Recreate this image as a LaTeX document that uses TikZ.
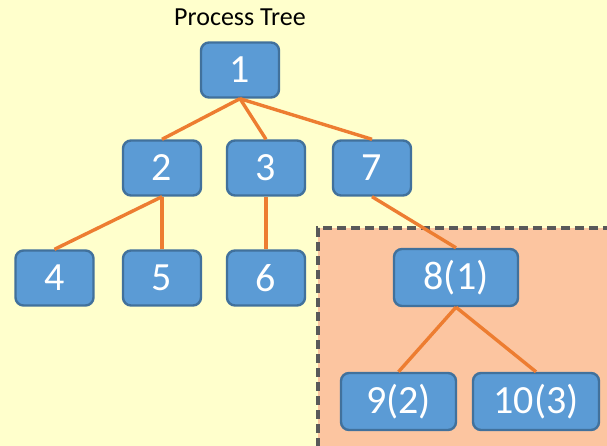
\documentclass[tikz,border=0pt]{standalone}
\usepackage{fontspec}
\setmainfont{Carlito}
\usepackage{tikz}
\definecolor{paper}{HTML}{FFFFCC}
\definecolor{boxfill}{HTML}{5B9BD5}
\definecolor{boxline}{HTML}{41719C}
\definecolor{link}{HTML}{ED7D31}
\definecolor{zone}{HTML}{FCC5A0}
\definecolor{zoneline}{HTML}{595959}
\tikzstyle{procBox}=[shape = rectangle, rounded corners = 8pt, draw = boxline, line width = 2.4pt, fill = boxfill, text = white, minimum width = 78pt, minimum height = 55pt, inner sep = 0pt, font = \fontsize{40}{40}\selectfont]
\tikzstyle{treeEdge}=[draw = link, line width = 3.4pt]

\begin{document}
\begin{tikzpicture}[x = 1pt, y = -1pt]
\useasboundingbox (0,0) rectangle (607,446);
\fill[paper] (0,0) rectangle (607,446);
\tikzstyle{childZone}=[draw = zoneline, line width = 3.2pt, dash pattern = on 9pt off 5pt]
% forked-off subtree area, open to the right and bottom
\fill[zone] (318,228) rectangle (612,452);
\draw[childZone] (612,228) -- (318,228) -- (318,452);
\node[font = \fontsize{26}{26}\selectfont] (title) at (240,17) {Process Tree};
\node[style = procBox] (v1) at (240,70) {1};
\node[style = procBox] (v2) at (162,168) {2};
\node[style = procBox] (v3) at (266,168) {3};
\node[style = procBox] (v7) at (372,168) {7};
\node[style = procBox] (v4) at (54.5,278) {4};
\node[style = procBox] (v5) at (162,278) {5};
\node[style = procBox] (v6) at (266,278) {6};
\node[style = procBox, minimum width = 124pt, minimum height = 57pt] (v8) at (456,277.5) {8(1)};
\node[style = procBox, minimum width = 115pt, minimum height = 57pt] (v9) at (398.5,401.5) {9(2)};
\node[style = procBox, minimum width = 126pt, minimum height = 57pt] (v10) at (536,401.5) {10(3)};
\draw[treeEdge] (v1.south) -- (v2.north);
\draw[treeEdge] (v1.south) -- (v3.north);
\draw[treeEdge] (v1.south) -- (v7.north);
\draw[treeEdge] (v2.south) -- (v4.north);
\draw[treeEdge] (v2.south) -- (v5.north);
\draw[treeEdge] (v3.south) -- (v6.north);
\draw[treeEdge] (v7.south) -- (v8.north);
\draw[treeEdge] (v8.south) -- (v9.north);
\draw[treeEdge] (v8.south) -- (v10.north);
\end{tikzpicture}
\end{document}
